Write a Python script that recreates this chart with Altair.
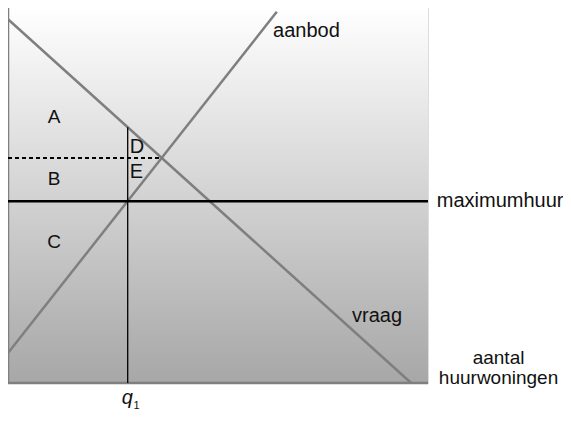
import altair as alt
import pandas as pd

# --- values (quantity 0..100, rent 0..100) ---
demand_q = [0, 96]
demand_p = [97, 0]
supply_q = [0, 64]
supply_p = [8, 99]
max_rent = 48.5
q1 = 28.5
q1_demand_p = 68.2
eq_q = 36.6
eq_p = 60.0

label_text = ["aanbod", "D", "E", "maximumhuur", "vraag"]
label_q = [63.1, 29.0, 29.0, 102.1, 81.9]
label_p = [92.3, 61.3, 54.7, 46.9, 16.3]

center_text = ["A", "B", "C", "aantal", "huurwoningen"]
center_q = [11.0, 11.0, 11.0, 116.8, 116.8]
center_p = [69.3, 52.8, 36.0, 5.2, -0.3]

W, H = 420, 375
FONT = "Liberation Sans"

xs = alt.Scale(domain=[0, 100], nice=False, zero=False)
ys = alt.Scale(domain=[0, 100], nice=False, zero=False)
X = lambda f: alt.X(f, type="quantitative", scale=xs, axis=None)
Y = lambda f: alt.Y(f, type="quantitative", scale=ys, axis=None)

bg = alt.Chart(pd.DataFrame({"q": [0], "q2": [100], "p": [0], "p2": [100.5]})).mark_rect(
    fill=alt.Gradient(
        gradient="linear",
        stops=[alt.GradientStop(offset=0, color="#ffffff"),
               alt.GradientStop(offset=1, color="#a7a7a7")],
        x1=0, x2=0, y1=0, y2=1,
    ),
    clip=False,
).encode(x=X("q"), x2="q2", y=Y("p"), y2="p2")

gray_lines = pd.DataFrame({
    "name": ["vraag", "aanbod", "y-as", "x-as"],
    "q": [demand_q[0], supply_q[0], 0, 0],
    "p": [demand_p[0], supply_p[0], 0, 0],
    "q2": [demand_q[1], supply_q[1], 0, 100],
    "p2": [demand_p[1], supply_p[1], 100.5, 0],
})
gray = alt.Chart(gray_lines).mark_rule(color="#7f7f7f", strokeWidth=2.5, clip=False).encode(
    x=X("q"), y=Y("p"), x2="q2", y2="p2")

maxline = alt.Chart(pd.DataFrame({"q": [0], "q2": [100], "p": [max_rent]})).mark_rule(
    color="#000000", strokeWidth=2.5).encode(x=X("q"), x2="q2", y=Y("p"))

vline = alt.Chart(pd.DataFrame({"q": [q1], "p": [0], "p2": [q1_demand_p]})).mark_rule(
    color="#000000", strokeWidth=1.3).encode(x=X("q"), y=Y("p"), y2="p2")

dashed = alt.Chart(pd.DataFrame({"q": [0], "q2": [eq_q], "p": [eq_p]})).mark_rule(
    color="#000000", strokeWidth=2, strokeDash=[4, 3]).encode(x=X("q"), x2="q2", y=Y("p"))

left_labels = alt.Chart(pd.DataFrame({"t": label_text, "q": label_q, "p": label_p})).mark_text(
    align="left", baseline="alphabetic", font=FONT, fontSize=20, color="#111111").encode(
    x=X("q"), y=Y("p"), text="t:N")

center_labels = alt.Chart(pd.DataFrame({"t": center_text, "q": center_q, "p": center_p})).mark_text(
    align="center", baseline="alphabetic", font=FONT, fontSize=19, color="#111111").encode(
    x=X("q"), y=Y("p"), text="t:N")

q_label = alt.Chart(pd.DataFrame({"t": ["q"], "q": [27.1], "p": [-5.6]})).mark_text(
    align="left", baseline="alphabetic", font=FONT, fontSize=20, fontStyle="italic",
    color="#111111").encode(x=X("q"), y=Y("p"), text="t:N")

sub_label = alt.Chart(pd.DataFrame({"t": ["1"], "q": [29.9], "p": [-6.9]})).mark_text(
    align="left", baseline="alphabetic", font=FONT, fontSize=11, color="#111111").encode(
    x=X("q"), y=Y("p"), text="t:N")

chart = alt.layer(
    bg, gray, maxline, vline, dashed, left_labels, center_labels, q_label, sub_label
).properties(
    width=W, height=H,
    autosize=alt.AutoSizeParams(type="none"),
    padding={"left": 0, "top": 0, "right": 135, "bottom": 30},
).configure_view(stroke=None).configure(background="#ffffff")

chart.save("out.html", embed_options={"renderer": "svg", "actions": False})
